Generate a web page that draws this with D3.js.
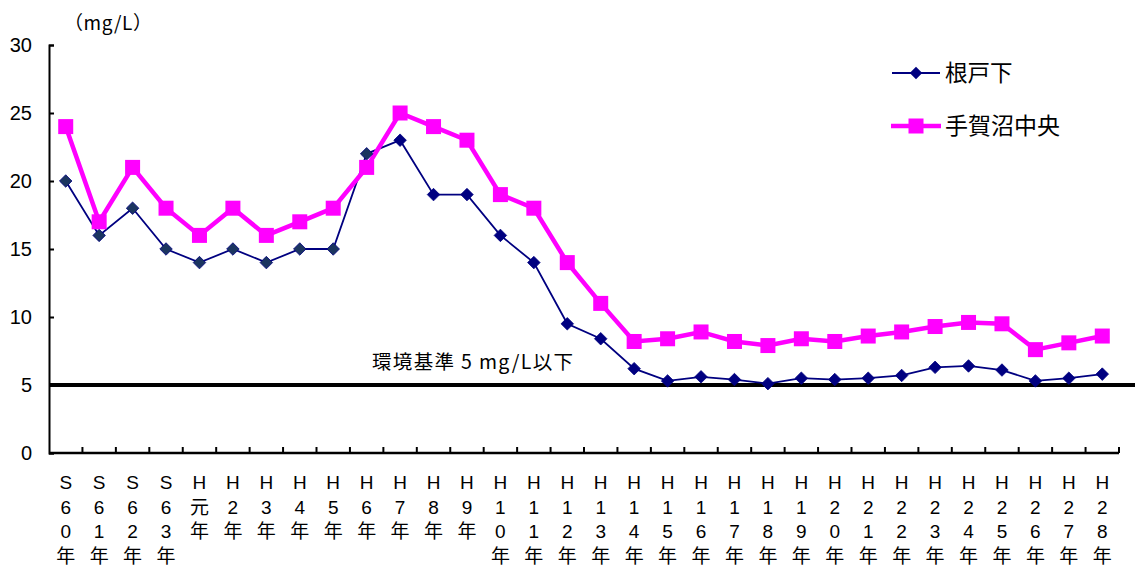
<!DOCTYPE html>
<html><head><meta charset="utf-8">
<script src="https://cdn.jsdelivr.net/npm/d3@7"></script>
<style>
html,body{margin:0;padding:0;background:#fff;}
svg{display:block;}
</style></head>
<body>
<svg id="chart" width="1135" height="569"></svg>
<script>
const categories = ["S60年","S61年","S62年","S63年","H元年","H2年","H3年","H4年","H5年","H6年","H7年","H8年","H9年","H10年","H11年","H12年","H13年","H14年","H15年","H16年","H17年","H18年","H19年","H20年","H21年","H22年","H23年","H24年","H25年","H26年","H27年","H28年"];
const nedoshita = [20,16,18,15,14,15,14,15,15,22,23,19,19,16,14,9.5,8.4,6.2,5.3,5.6,5.4,5.1,5.5,5.4,5.5,5.7,6.3,6.4,6.1,5.3,5.5,5.8];
const teganumaChuo = [24,17,21,18,16,18,16,17,18,21,25,24,23,19,18,14,11,8.2,8.4,8.9,8.2,7.9,8.4,8.2,8.6,8.9,9.3,9.6,9.5,7.6,8.1,8.6];
const seriesNames = ["根戸下","手賀沼中央"];
const yTicks = [0,5,10,15,20,25,30];
const standardValue = 5;
const standardLabel = "環境基準 5 mg/L以下";
const unitLabel = "（mg/L）";

const svg = d3.select("#chart");
const latin = "'Liberation Sans', Arial, sans-serif";
const cjk = "'Noto Sans CJK JP', 'Noto Sans', sans-serif";

const x = d3.scaleBand().domain(categories).range([49, 1119]).padding(0);
const y = d3.scaleLinear().domain([0, 30]).range([453, 45]);
const cx = c => x(c) + x.bandwidth() / 2;

// Y axis
const yAxis = d3.axisLeft(y).tickValues(yTicks).tickSizeInner(-5).tickSizeOuter(-5).tickPadding(17);
const gy = svg.append("g").attr("transform", "translate(49,0)").call(yAxis);
gy.select(".domain").attr("stroke", "#000").attr("stroke-width", 2);
gy.selectAll(".tick line").attr("stroke", "#000").attr("stroke-width", 2);
gy.selectAll(".tick text").attr("font-family", latin).attr("font-size", 20).attr("fill", "#000");

// X axis line
svg.append("line").attr("x1", 49).attr("x2", 1119).attr("y1", y(0)).attr("y2", y(0))
  .attr("stroke", "#000").attr("stroke-width", 2.5);
svg.append("g").selectAll("line").data(categories).join("line")
  .attr("x1", d => x(d) + x.bandwidth()).attr("x2", d => x(d) + x.bandwidth())
  .attr("y1", y(0)).attr("y2", y(0) - 6).attr("stroke", "#000").attr("stroke-width", 2);

// X labels, vertical characters
const xl = svg.append("g");
categories.forEach(c => {
  const chars = Array.from(c);
  const t = xl.append("text").attr("text-anchor", "middle").attr("font-size", 19).attr("fill", "#000");
  chars.forEach((ch, i) => {
    t.append("tspan").attr("x", cx(c)).attr("y", 489 + i * 24.7)
      .attr("font-family", /[A-Za-z0-9]/.test(ch) ? latin : cjk)
      .text(ch);
  });
});

// Unit label
svg.append("text").attr("x", 64).attr("y", 30).attr("font-family", cjk).attr("font-size", 19)
  .attr("textLength", 88).attr("lengthAdjust", "spacing")
  .attr("fill", "#000").text(unitLabel);

// Environmental standard line
svg.append("line").attr("x1", 49).attr("x2", 1135).attr("y1", y(standardValue)).attr("y2", y(standardValue))
  .attr("stroke", "#000").attr("stroke-width", 4);
svg.append("text").attr("x", 372).attr("y", 369).attr("font-family", cjk).attr("font-size", 19.5)
  .attr("textLength", 201).attr("lengthAdjust", "spacing")
  .attr("fill", "#000").text(standardLabel);

// Series
const line = d3.line().x((d, i) => cx(categories[i])).y(d => y(d));

svg.append("path").datum(nedoshita).attr("d", line).attr("fill", "none")
  .attr("stroke", "#000080").attr("stroke-width", 1.8);
svg.append("path").datum(teganumaChuo).attr("d", line).attr("fill", "none")
  .attr("stroke", "#FF00FF").attr("stroke-width", 4.5);

const diamond = d3.symbol().type(d3.symbolDiamond2).size(100);
svg.append("g").selectAll("path").data(nedoshita).join("path")
  .attr("d", diamond)
  .attr("transform", (d, i) => `translate(${cx(categories[i])},${y(d)})`)
  .attr("fill", (d, i) => i < 10 ? "#1b3560" : "#000080")
  .attr("stroke", "#000080").attr("stroke-width", 0.8);

svg.append("g").selectAll("rect").data(teganumaChuo).join("rect")
  .attr("x", (d, i) => cx(categories[i]) - 7.5).attr("y", d => y(d) - 7.5)
  .attr("width", 15).attr("height", 15).attr("fill", "#FF00FF");

// Legend
const leg = svg.append("g");
leg.append("line").attr("x1", 892).attr("x2", 940).attr("y1", 73).attr("y2", 73)
  .attr("stroke", "#000080").attr("stroke-width", 1.8);
leg.append("path").attr("d", diamond).attr("transform", "translate(916,73)").attr("fill", "#000080");
leg.append("text").attr("x", 945).attr("y", 81).attr("font-family", cjk).attr("font-size", 22.5)
  .attr("fill", "#000").text(seriesNames[0]);
leg.append("line").attr("x1", 891).attr("x2", 941).attr("y1", 126).attr("y2", 126)
  .attr("stroke", "#FF00FF").attr("stroke-width", 4.5);
leg.append("rect").attr("x", 908.5).attr("y", 118.5).attr("width", 15).attr("height", 15).attr("fill", "#FF00FF");
leg.append("text").attr("x", 945).attr("y", 134).attr("font-family", cjk).attr("font-size", 23)
  .attr("fill", "#000").text(seriesNames[1]);
</script>
</body></html>
